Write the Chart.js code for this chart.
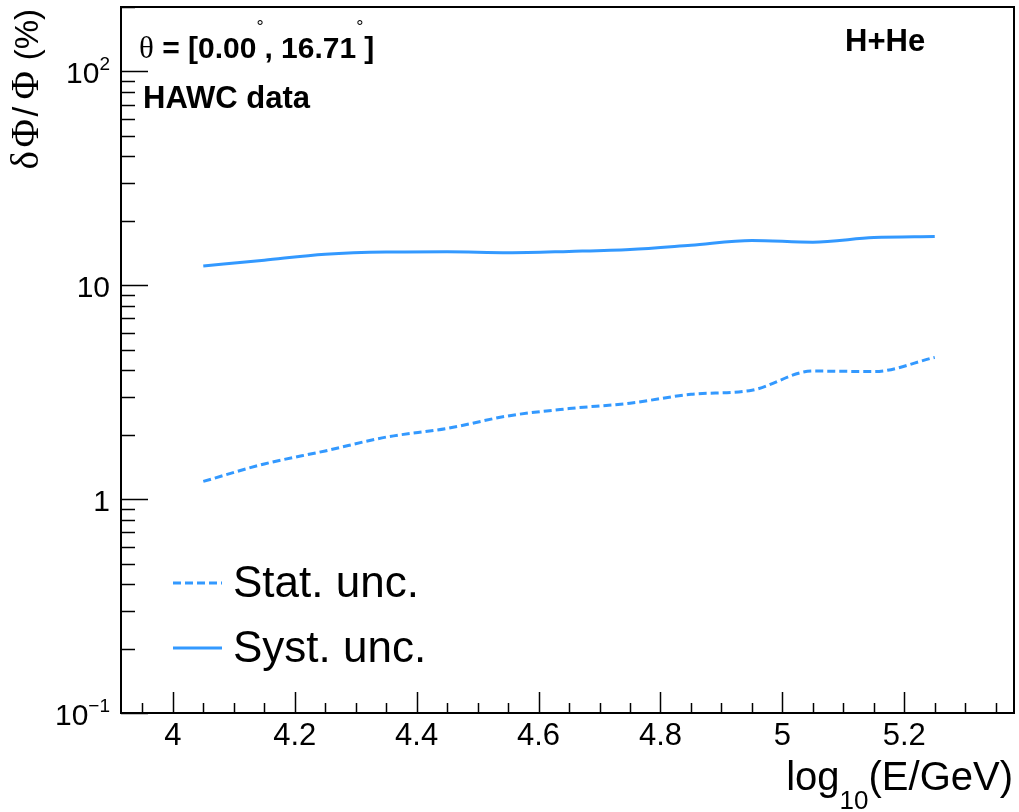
<!DOCTYPE html>
<html>
<head>
<meta charset="utf-8">
<script src="https://cdn.jsdelivr.net/npm/chart.js@4.4.1/dist/chart.umd.min.js"></script>
<style>
html,body{margin:0;padding:0;background:#fff;}
#wrap{width:1019px;height:812px;position:relative;}
</style>
</head>
<body>
<div id="wrap"><canvas id="c"></canvas></div>
<script>
// ---- data ----
const energies = [4.05, 4.15, 4.25, 4.35, 4.45, 4.55, 4.65, 4.75, 4.85, 4.95, 5.05, 5.15, 5.25];
const statUnc  = [1.21, 1.46, 1.68, 1.95, 2.14, 2.45, 2.65, 2.81, 3.09, 3.23, 3.97, 3.95, 4.60];
const systUnc  = [12.3, 13.1, 13.95, 14.3, 14.35, 14.2, 14.4, 14.7, 15.4, 16.2, 15.9, 16.7, 16.9];
const seriesNames = ['Stat. unc.', 'Syst. unc.'];

// ---- axis ticks ----
const xTickValues = [4, 4.2, 4.4, 4.6, 4.8, 5, 5.2];
const xTickLabels = ['4', '4.2', '4.4', '4.6', '4.8', '5', '5.2'];
const yTickValues = [0.1, 1, 10, 100];
const yTickBase   = ['10', '1', '10', '10'];
const yTickExp    = ['\u22121', '', '', '2'];

const X_MIN = 3.915, X_MAX = 5.38;
const Y_MIN = 0.1, Y_MAX = 200;
const LINE_COLOR = 'rgb(51,153,255)';
const SANS = '"Liberation Sans", Arial, Helvetica, sans-serif';
const SERIF = '"Liberation Serif", "Times New Roman", serif';

function drawRuns(ctx, x, y, runs) {
  let cx = x;
  for (const r of runs) {
    ctx.font = r.font;
    ctx.fillText(r.t, cx, y + (r.dy || 0));
    cx += (r.w !== undefined) ? r.w : ctx.measureText(r.t).width;
  }
  return cx;
}
function runsWidth(ctx, runs) {
  let w = 0;
  for (const r of runs) { ctx.font = r.font; w += (r.w !== undefined) ? r.w : ctx.measureText(r.t).width; }
  return w;
}

const rootStyle = {
  id: 'rootStyle',
  afterDraw(chart) {
    const ctx = chart.ctx, a = chart.chartArea;
    const xs = chart.scales.x, ys = chart.scales.y;
    ctx.save();
    ctx.fillStyle = '#000';
    ctx.strokeStyle = '#000';

    // ticks (inside the frame, ROOT style)
    ctx.lineWidth = 1.5;
    ctx.beginPath();
    for (let i = 0; i <= 28; i++) {
      const v = 3.95 + i * 0.05;
      if (v < X_MIN || v > X_MAX) continue;
      const major = xTickValues.some(t => Math.abs(t - v) < 1e-6);
      const px = Math.round(xs.getPixelForValue(v)) + 0.5;
      ctx.moveTo(px, a.bottom);
      ctx.lineTo(px, a.bottom - (major ? 21 : 10));
    }
    for (let k = -1; k <= 2; k++) {
      for (let m = 1; m <= 9; m++) {
        const v = m * Math.pow(10, k);
        if (v < Y_MIN - 1e-9 || v > Y_MAX + 1e-9) continue;
        const py = Math.round(ys.getPixelForValue(v)) + 0.5;
        ctx.moveTo(a.left, py);
        ctx.lineTo(a.left + (m === 1 ? 27 : 14), py);
      }
    }
    ctx.stroke();

    // frame
    ctx.lineWidth = 2;
    ctx.strokeRect(a.left, a.top, a.right - a.left, a.bottom - a.top);

    // x tick labels
    ctx.font = '31px ' + SANS;
    ctx.textAlign = 'center';
    ctx.textBaseline = 'alphabetic';
    xTickValues.forEach((v, i) => {
      ctx.fillText(xTickLabels[i], xs.getPixelForValue(v), a.bottom + 32);
    });

    // y tick labels
    ctx.textAlign = 'left';
    yTickValues.forEach((v, i) => {
      const py = ys.getPixelForValue(v);
      const runs = [{ t: yTickBase[i], font: '30px ' + SANS }];
      if (yTickExp[i]) runs.push({ t: yTickExp[i], font: '19px ' + SANS, dy: -13 });
      const w = runsWidth(ctx, runs);
      drawRuns(ctx, a.left - 11 - w, py + 12, runs);
    });

    // x title: log_10(E/GeV)
    {
      const runs = [
        { t: 'log', font: '40px ' + SANS },
        { t: '10', font: '26px ' + SANS, dy: 19 },
        { t: '(E/GeV)', font: '40px ' + SANS }
      ];
      const w = runsWidth(ctx, runs);
      drawRuns(ctx, 1013 - w, 790, runs);
    }

    // y title: δΦ/Φ (%)
    {
      const G = '39px ' + SERIF;
      const runs = [
        { t: '\u03B4', font: G, w: 22 },
        { t: '\u03A6', font: G, w: 31 },
        { t: '/', font: '35px ' + SANS, w: 17 },
        { t: '\u03A6', font: G, w: 30 },
        { t: ' (%)', font: '33px ' + SANS }
      ];
      const w = runsWidth(ctx, runs);
      ctx.save();
      ctx.translate(38, 9);
      ctx.rotate(-Math.PI / 2);
      drawRuns(ctx, -w, 0, runs);
      ctx.restore();
    }

    // annotations
    {
      const B = 'bold 30px ' + SANS;
      const deg = { t: '\u00B0', font: '18px ' + SANS, dy: -25, w: 8 };
      drawRuns(ctx, 139, 58, [
        { t: '\u03B8', font: '31px ' + SERIF },
        { t: ' = [0.00', font: B },
        Object.assign({}, deg),
        { t: ', 16.71', font: B },
        Object.assign({}, deg),
        { t: ']', font: B }
      ]);
      ctx.font = 'bold 31px ' + SANS;
      ctx.fillText('HAWC data', 143, 108);
      ctx.fillText('H+He', 845, 51);
    }

    // legend
    {
      ctx.lineWidth = 3;
      ctx.strokeStyle = LINE_COLOR;
      const items = [
        { y: 583, dash: [8, 4], label: seriesNames[0] },
        { y: 648, dash: [], label: seriesNames[1] }
      ];
      ctx.font = '44px ' + SANS;
      ctx.textBaseline = 'middle';
      ctx.fillStyle = '#000';
      for (const it of items) {
        ctx.setLineDash(it.dash);
        ctx.beginPath();
        ctx.moveTo(173, it.y);
        ctx.lineTo(222, it.y);
        ctx.stroke();
        ctx.setLineDash([]);
        ctx.fillText(it.label, 233, it.y + 2);
      }
    }
    ctx.restore();
  }
};

const toPts = (xsArr, ysArr) => xsArr.map((x, i) => ({ x: x, y: ysArr[i] }));

new Chart(document.getElementById('c'), {
  type: 'line',
  data: {
    datasets: [
      {
        label: seriesNames[0],
        data: toPts(energies, statUnc),
        borderColor: LINE_COLOR,
        borderWidth: 3,
        borderDash: [8, 4],
        pointRadius: 0,
        fill: false,
        cubicInterpolationMode: 'monotone'
      },
      {
        label: seriesNames[1],
        data: toPts(energies, systUnc),
        borderColor: LINE_COLOR,
        borderWidth: 3,
        pointRadius: 0,
        fill: false,
        cubicInterpolationMode: 'monotone'
      }
    ]
  },
  options: {
    responsive: true,
    maintainAspectRatio: false,
    animation: false,
    devicePixelRatio: 1,
    layout: { padding: { left: 121, top: 7, right: 5, bottom: 99 } },
    plugins: { legend: { display: false }, tooltip: { enabled: false } },
    scales: {
      x: { type: 'linear', min: X_MIN, max: X_MAX, display: false },
      y: { type: 'logarithmic', min: Y_MIN, max: Y_MAX, display: false }
    }
  },
  plugins: [rootStyle]
});
</script>
</body>
</html>
